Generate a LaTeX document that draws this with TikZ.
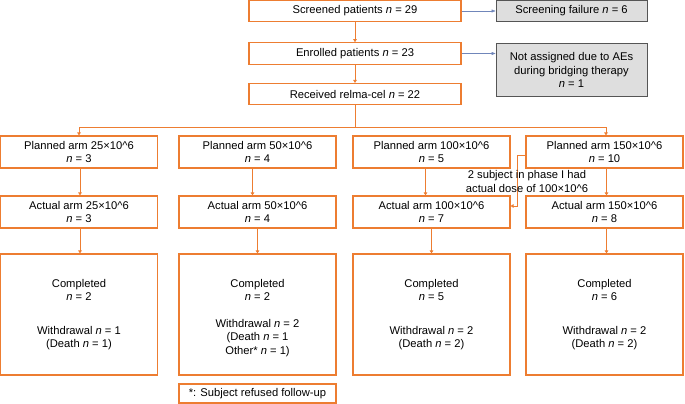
\documentclass[tikz,border=0pt]{standalone}
\usepackage{fontspec}
\setmainfont{Liberation Sans}
\usepackage{tikz}
\usetikzlibrary{arrows.meta, positioning, calc}
\definecolor{armorange}{RGB}{237, 125, 49}
\definecolor{failgray}{RGB}{222, 222, 222}
\definecolor{failborder}{RGB}{85, 85, 85}
\definecolor{sideblue}{RGB}{112, 134, 186}

\tikzset{
  flowbox/.style={draw=armorange, line width=1.1pt, fill=white, align=center,
                  inner sep=0pt, minimum width=157pt},
  failbox/.style={draw=failborder, line width=0.9pt, fill=failgray, align=center,
                  inner sep=0pt, minimum width=151pt},
  flowline/.style={draw=armorange, line width=0.9pt},
  flowarrow/.style={flowline, -{Triangle[length=3pt, width=3.5pt]}},
  sidearrow/.style={draw=sideblue, line width=0.5pt, -{Triangle[length=4pt, width=3pt]}},
}
\newcommand{\nn}{\textit{n}}
\newcommand{\dose}[1]{#1×10\textasciicircum 6}

\begin{document}
\begin{tikzpicture}[x=1pt, y=-1pt, font=\fontsize{11.2}{13.5}\selectfont]
  \useasboundingbox (0,0) rectangle (685,404);

  % top of the chart
  \node[flowbox, minimum width=212pt, minimum height=21.5pt] (screened) at (355,11) {Screened patients \nn{} = 29};
  \node[flowbox, minimum width=212pt, minimum height=21.5pt] (enrolled) at (355,53.5) {Enrolled patients \nn{} = 23};
  \node[flowbox, minimum width=212pt, minimum height=21pt] (received) at (355,94) {Received relma-cel \nn{} = 22};
  \node[failbox, minimum height=21.5pt] (failure) at (571.5,11) {Screening failure \nn{} = 6};
  \node[failbox, minimum height=53.5pt] (notassigned) at (571.5,70) {Not assigned due to AEs\\during bridging therapy\\\nn{} = 1};

  \draw[flowarrow] (screened) -- (enrolled);
  \draw[flowarrow] (enrolled) -- (received);
  \draw[sidearrow] (screened) -- (failure);
  \draw[sidearrow] (enrolled.east) -- (enrolled.east -| notassigned.west);

  % planned arms
  \node[flowbox, minimum height=32pt] (p1) at (79,152) {Planned arm \dose{25}\\\nn{} = 3};
  \node[flowbox, minimum height=32pt] (p2) at (257.5,152) {Planned arm \dose{50}\\\nn{} = 4};
  \node[flowbox, minimum height=32pt] (p3) at (431.5,152) {Planned arm \dose{100}\\\nn{} = 5};
  \node[flowbox, minimum height=32pt] (p4) at (604.5,152) {Planned arm \dose{150}\\\nn{} = 10};

  % actual arms
  \node[flowbox, minimum height=32pt] (a1) at (79,212) {Actual arm \dose{25}\\\nn{} = 3};
  \node[flowbox, minimum height=32pt] (a2) at (257.5,212) {Actual arm \dose{50}\\\nn{} = 4};
  \node[flowbox, minimum height=32pt] (a3) at (431.5,212) {Actual arm \dose{100}\\\nn{} = 7};
  \node[flowbox, minimum height=32pt] (a4) at (604.5,212) {Actual arm \dose{150}\\\nn{} = 8};

  % outcome
  \node[flowbox, minimum height=121pt] (f1) at (79,314.5) {Completed\\\nn{} = 2\\[20pt]Withdrawal \nn{} = 1\\(Death \nn{} = 1)};
  \node[flowbox, minimum height=121pt] (f2) at (257.5,314.5) {\rule{0pt}{15pt}Completed\\\nn{} = 2\\[13pt]Withdrawal \nn{} = 2\\(Death \nn{} = 1\\Other* \nn{} = 1)};
  \node[flowbox, minimum height=121pt] (f3) at (431.5,314.5) {Completed\\\nn{} = 5\\[20pt]Withdrawal \nn{} = 2\\(Death \nn{} = 2)};
  \node[flowbox, minimum height=121pt] (f4) at (604.5,314.5) {Completed\\\nn{} = 6\\[20pt]Withdrawal \nn{} = 2\\(Death \nn{} = 2)};
  \node[flowbox, minimum height=19pt] (footnote) at (257.5,393.5) {*: Subject refused follow-up};

  % branching
  \coordinate (branchL) at (79,127);
  \coordinate (branchR) at (606,127);
  \draw[flowline] (received.south) -- (received.south |- branchL);
  \draw[flowline] (branchL) -- (branchR);
  \draw[flowarrow] (branchL) -- (p1.north);
  \draw[flowarrow] (branchR) -- (branchR |- p4.north);

  \foreach \i/\dx in {1/1, 2/-5, 3/-6, 4/2}
    \draw[flowarrow] ([xshift=\dx pt]p\i.south) -- ([xshift=\dx pt]a\i.north);
  \foreach \i/\dx in {1/1, 2/0, 3/0, 4/2}
    \draw[flowarrow] ([xshift=\dx pt]a\i.south) -- ([xshift=\dx pt]f\i.north);

  % dose change
  \draw[flowarrow] ([yshift=-3pt]p4.west) -- ++(-8,0) |- ([yshift=6pt]a3.east);
  \node[align=center, font=\fontsize{11.2}{14}\selectfont] (dosenote) at (527,181) {2 subject in phase I had\\actual dose of \dose{100}};
\end{tikzpicture}
\end{document}
